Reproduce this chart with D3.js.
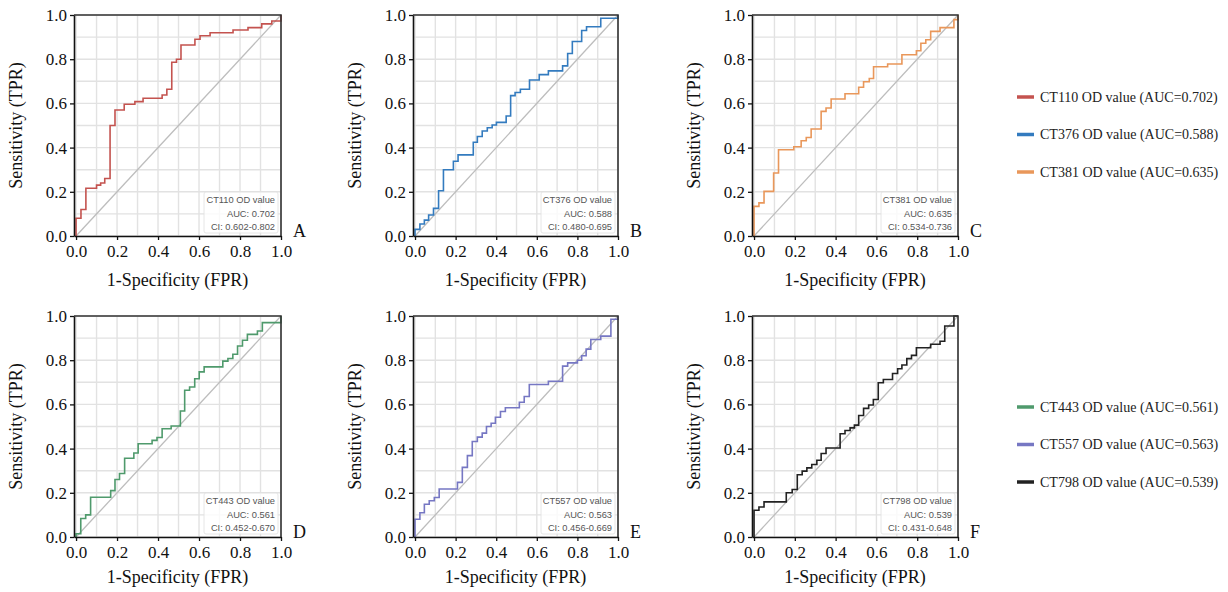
<!DOCTYPE html>
<html>
<head>
<meta charset="utf-8">
<script src="https://cdn.jsdelivr.net/npm/d3@7"></script>
<style>
  body { margin: 0; background: #fff; }
  svg { display: block; }
</style>
</head>
<body>
<div id="chart"></div>
<script>
// --------------- Data ---------------
const markers = ["CT110", "CT376", "CT381", "CT443", "CT557", "CT798"];
const aucValues = ["0.702", "0.588", "0.635", "0.561", "0.563", "0.539"];
const ciValues = ["0.602-0.802", "0.480-0.695", "0.534-0.736", "0.452-0.670", "0.456-0.669", "0.431-0.648"];
const panelLetters = ["A", "B", "C", "D", "E", "F"];
const tickValues = [0, 0.2, 0.4, 0.6, 0.8, 1.0];

const ct110Fpr = [0, 0, 0.024, 0.048, 0.10, 0.12, 0.14, 0.166, 0.19, 0.235, 0.287, 0.327, 0.42, 0.443, 0.467, 0.49, 0.512, 0.58, 0.605, 0.654, 0.766, 0.839, 0.906, 0.955, 1.0, 1.0];
const ct110Tpr = [0, 0.08, 0.12, 0.216, 0.23, 0.24, 0.26, 0.50, 0.57, 0.596, 0.608, 0.623, 0.638, 0.664, 0.786, 0.80, 0.864, 0.89, 0.906, 0.92, 0.932, 0.943, 0.96, 0.973, 0.973, 1.0];

const ct376Fpr = [0, 0, 0.024, 0.046, 0.067, 0.091, 0.116, 0.14, 0.189, 0.212, 0.287, 0.307, 0.331, 0.356, 0.38, 0.401, 0.449, 0.471, 0.493, 0.519, 0.564, 0.612, 0.657, 0.727, 0.752, 0.775, 0.821, 0.845, 0.915, 1.0];
const ct376Tpr = [0, 0.03, 0.054, 0.072, 0.095, 0.125, 0.205, 0.30, 0.338, 0.367, 0.424, 0.45, 0.475, 0.49, 0.502, 0.514, 0.543, 0.635, 0.649, 0.664, 0.706, 0.73, 0.747, 0.77, 0.826, 0.88, 0.93, 0.947, 0.985, 1.0];

const ct381Fpr = [0, 0, 0.024, 0.049, 0.096, 0.12, 0.195, 0.231, 0.256, 0.28, 0.329, 0.353, 0.378, 0.446, 0.513, 0.537, 0.565, 0.586, 0.655, 0.725, 0.796, 0.818, 0.842, 0.866, 0.912, 0.98, 1.0];
const ct381Tpr = [0, 0.134, 0.15, 0.202, 0.285, 0.39, 0.404, 0.431, 0.446, 0.484, 0.564, 0.579, 0.62, 0.644, 0.673, 0.698, 0.713, 0.766, 0.778, 0.82, 0.838, 0.872, 0.888, 0.926, 0.943, 0.979, 1.0];

const ct443Fpr = [0, 0, 0.023, 0.047, 0.071, 0.169, 0.19, 0.212, 0.237, 0.282, 0.303, 0.371, 0.395, 0.42, 0.464, 0.509, 0.53, 0.554, 0.579, 0.601, 0.625, 0.716, 0.741, 0.765, 0.788, 0.812, 0.836, 0.885, 0.909, 1.0];
const ct443Tpr = [0, 0.015, 0.084, 0.10, 0.18, 0.21, 0.26, 0.287, 0.356, 0.38, 0.422, 0.437, 0.45, 0.49, 0.502, 0.57, 0.664, 0.679, 0.716, 0.747, 0.77, 0.796, 0.808, 0.827, 0.864, 0.89, 0.917, 0.932, 0.97, 1.0];

const ct557Fpr = [0, 0, 0.024, 0.046, 0.07, 0.095, 0.119, 0.209, 0.233, 0.258, 0.282, 0.307, 0.331, 0.352, 0.375, 0.396, 0.421, 0.445, 0.514, 0.538, 0.563, 0.657, 0.727, 0.752, 0.80, 0.821, 0.843, 0.866, 0.915, 0.965, 1.0];
const ct557Tpr = [0, 0.08, 0.11, 0.148, 0.164, 0.179, 0.217, 0.247, 0.315, 0.368, 0.432, 0.452, 0.47, 0.5, 0.515, 0.542, 0.568, 0.585, 0.61, 0.636, 0.69, 0.705, 0.773, 0.788, 0.80, 0.82, 0.85, 0.894, 0.909, 0.985, 1.0];

const ct798Fpr = [0, 0, 0.024, 0.049, 0.158, 0.187, 0.212, 0.236, 0.259, 0.283, 0.308, 0.329, 0.353, 0.422, 0.446, 0.471, 0.492, 0.513, 0.537, 0.562, 0.585, 0.609, 0.634, 0.679, 0.704, 0.725, 0.749, 0.772, 0.796, 0.866, 0.912, 0.935, 0.98, 1.0];
const ct798Tpr = [0, 0.121, 0.136, 0.159, 0.2, 0.215, 0.282, 0.298, 0.313, 0.328, 0.347, 0.378, 0.403, 0.467, 0.482, 0.494, 0.506, 0.55, 0.582, 0.597, 0.622, 0.698, 0.713, 0.74, 0.761, 0.778, 0.807, 0.822, 0.856, 0.872, 0.886, 0.955, 1.0, 1.0];

const fprSeries = [ct110Fpr, ct376Fpr, ct381Fpr, ct443Fpr, ct557Fpr, ct798Fpr];
const tprSeries = [ct110Tpr, ct376Tpr, ct381Tpr, ct443Tpr, ct557Tpr, ct798Tpr];

// --------------- Constants ---------------
const WIDTH = 1228;
const HEIGHT = 592;
const COLORS = ["#c4534f", "#337bbf", "#e9975a", "#4f9a6c", "#7677c3", "#222222"];
const COL_LEFT = [74, 413, 752];
const COL_WIDTH = [207, 205, 206];
const ROW_TOP = [15, 316];
const ROW_TITLE_GAP = [50, 46];
const PANEL_HEIGHT = 221;
const SERIF = "'Liberation Serif', 'Times New Roman', serif";
const SANS = "'Liberation Sans', Arial, sans-serif";

const svg = d3
  .select("#chart")
  .append("svg")
  .attr("width", WIDTH)
  .attr("height", HEIGHT);

function renderPanel(i) {
  const row = Math.floor(i / 3);
  const left = COL_LEFT[i % 3];
  const width = COL_WIDTH[i % 3];
  const top = ROW_TOP[row];
  const bottom = top + PANEL_HEIGHT;
  const right = left + width;

  const X_SCALE = d3.scaleLinear().domain([-0.01, 1]).range([left, right]);
  const Y_SCALE = d3.scaleLinear().domain([0, 1]).range([bottom, top]);

  const g = svg.append("g").attr("class", "panel");

  // grid every 0.1
  const gridVals = d3.range(0, 11).map((d) => d / 10);
  g.append("g")
    .selectAll("line")
    .data(gridVals)
    .enter()
    .append("line")
    .attr("x1", (d) => X_SCALE(d))
    .attr("x2", (d) => X_SCALE(d))
    .attr("y1", top)
    .attr("y2", bottom)
    .attr("stroke", "#e2e2e2")
    .attr("stroke-width", 1.4);
  g.append("g")
    .selectAll("line")
    .data(gridVals)
    .enter()
    .append("line")
    .attr("x1", left)
    .attr("x2", right)
    .attr("y1", (d) => Y_SCALE(d))
    .attr("y2", (d) => Y_SCALE(d))
    .attr("stroke", "#e2e2e2")
    .attr("stroke-width", 1.4);

  // chance line
  g.append("line")
    .attr("x1", X_SCALE(0))
    .attr("y1", Y_SCALE(0))
    .attr("x2", X_SCALE(1))
    .attr("y2", Y_SCALE(1))
    .attr("stroke", "#bdbdbd")
    .attr("stroke-width", 1.3);

  // ROC curve
  const points = fprSeries[i].map((f, k) => [f, tprSeries[i][k]]);
  const line = d3
    .line()
    .x((d) => X_SCALE(d[0]))
    .y((d) => Y_SCALE(d[1]))
    .curve(d3.curveStepAfter);
  g.append("path")
    .datum(points)
    .attr("d", line)
    .attr("fill", "none")
    .attr("stroke", COLORS[i])
    .attr("stroke-width", 1.6);

  // annotation box
  const ann = g.append("g");
  ann.append("rect")
    .attr("x", right - 77)
    .attr("y", bottom - 44)
    .attr("width", 74)
    .attr("height", 41)
    .attr("rx", 2)
    .attr("fill", "#fff")
    .attr("fill-opacity", 0.8)
    .attr("stroke", "#e0e0e0")
    .attr("stroke-width", 0.8);
  const annLines = [`${markers[i]} OD value`, `AUC: ${aucValues[i]}`, `CI: ${ciValues[i]}`];
  ann.selectAll("text")
    .data(annLines)
    .enter()
    .append("text")
    .attr("x", right - 6)
    .attr("y", (d, k) => bottom - 33 + k * 13.5)
    .attr("text-anchor", "end")
    .attr("font-family", SANS)
    .attr("font-size", "9.3px")
    .attr("fill", "#555")
    .text((d) => d);

  // frame (top / right)
  g.append("path")
    .attr("d", `M${left},${top}H${right}V${bottom}`)
    .attr("fill", "none")
    .attr("stroke", "#333")
    .attr("stroke-width", 1.6);

  // axes
  const xAxis = g
    .append("g")
    .attr("transform", `translate(0,${bottom})`)
    .call(d3.axisBottom(X_SCALE).tickValues(tickValues).tickFormat(d3.format(".1f")).tickSize(4).tickSizeOuter(0).tickPadding(5));
  const yAxis = g
    .append("g")
    .attr("transform", `translate(${left},0)`)
    .call(d3.axisLeft(Y_SCALE).tickValues(tickValues).tickFormat(d3.format(".1f")).tickSize(4).tickSizeOuter(0).tickPadding(3));
  [xAxis, yAxis].forEach((ax) => {
    ax.select(".domain").attr("stroke", "#111").attr("stroke-width", 1.6);
    ax.selectAll(".tick line").attr("stroke", "#111").attr("stroke-width", 1.3);
    ax.selectAll(".tick text")
      .attr("font-family", SERIF)
      .attr("font-size", "17px")
      .attr("fill", "#111");
  });

  // axis titles
  g.append("text")
    .attr("x", (left + right) / 2)
    .attr("y", bottom + ROW_TITLE_GAP[row])
    .attr("text-anchor", "middle")
    .attr("font-family", SERIF)
    .attr("font-size", "18px")
    .attr("fill", "#111")
    .text("1-Specificity (FPR)");
  g.append("text")
    .attr("transform", `translate(${left - 52},${(top + bottom) / 2}) rotate(-90)`)
    .attr("text-anchor", "middle")
    .attr("font-family", SERIF)
    .attr("font-size", "18px")
    .attr("fill", "#111")
    .text("Sensitivity (TPR)");

  // panel letter
  g.append("text")
    .attr("x", right + 12)
    .attr("y", bottom + 1)
    .attr("font-family", SERIF)
    .attr("font-size", "18px")
    .attr("fill", "#111")
    .text(panelLetters[i]);
}

function renderLegend(startIdx, y0) {
  const items = d3.range(startIdx, startIdx + 3);
  const lg = svg.append("g");
  const rows = lg
    .selectAll("g")
    .data(items)
    .enter()
    .append("g")
    .attr("transform", (d, k) => `translate(1017,${y0 + k * 37.5})`);
  rows.append("line")
    .attr("x1", 0)
    .attr("x2", 17)
    .attr("stroke", (d) => COLORS[d])
    .attr("stroke-width", 3.5);
  rows.append("text")
    .attr("x", 23)
    .attr("dy", "0.35em")
    .attr("font-family", SERIF)
    .attr("font-size", "14px")
    .attr("fill", "#222")
    .text((d) => `${markers[d]} OD value (AUC=${aucValues[d]})`);
}

d3.range(6).forEach(renderPanel);
renderLegend(0, 97);
renderLegend(3, 407);
</script>
</body>
</html>
